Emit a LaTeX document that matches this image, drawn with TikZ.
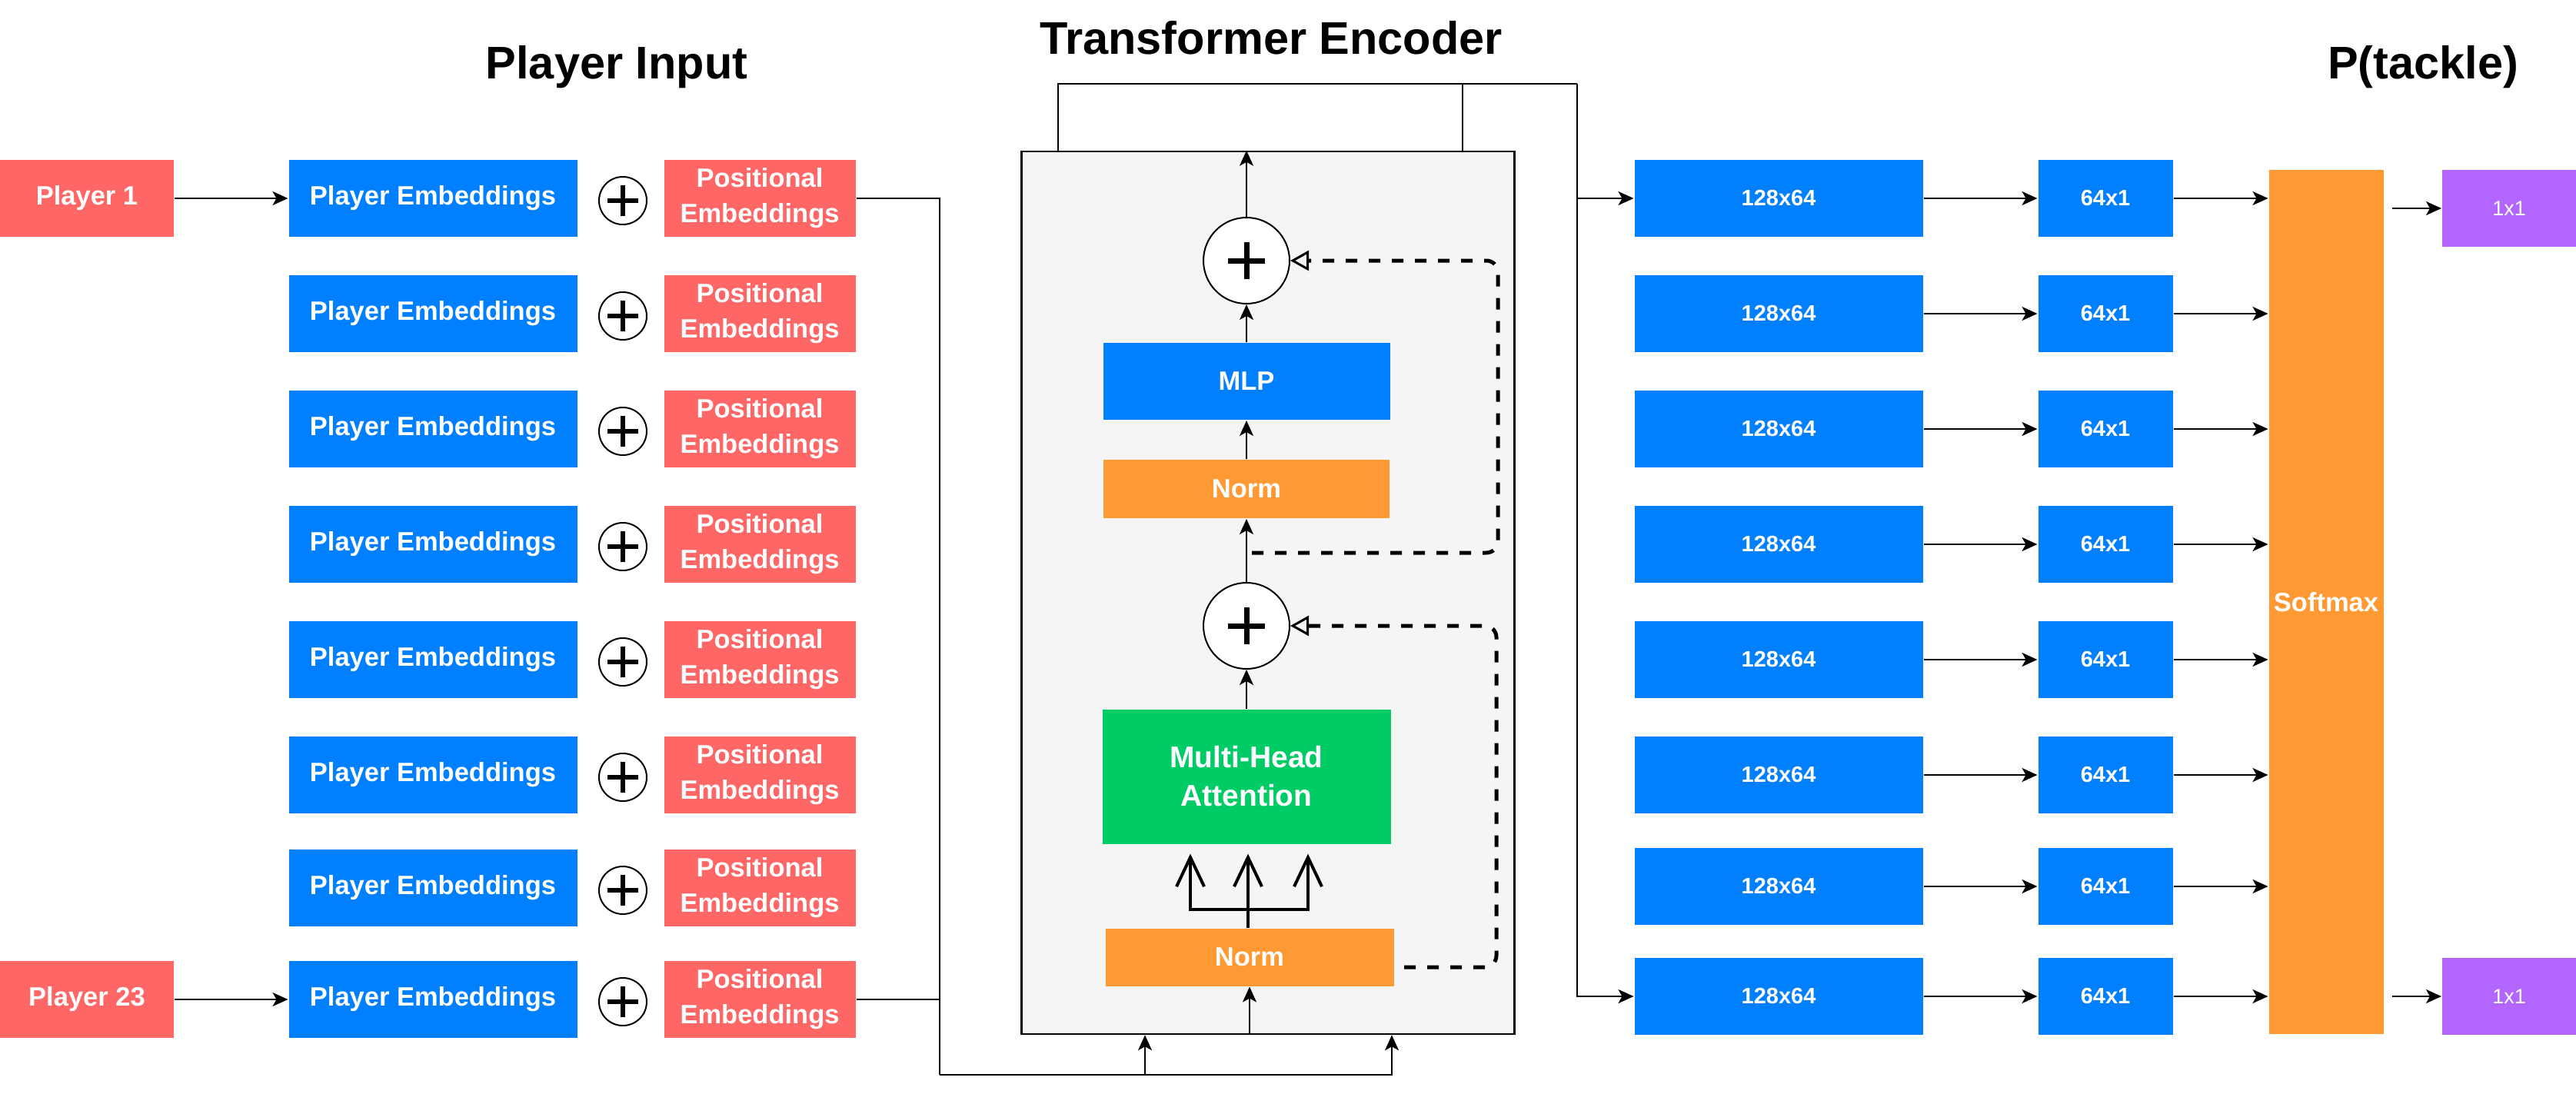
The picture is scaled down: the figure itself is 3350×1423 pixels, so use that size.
\documentclass[tikz,border=0pt]{standalone}
\usepackage{fontspec}
\setmainfont{Liberation Sans}
\usetikzlibrary{arrows.meta}
\definecolor{embblue}{HTML}{007FFF}
\definecolor{possalmon}{HTML}{FF6666}
\definecolor{normorange}{HTML}{FF9933}
\definecolor{attgreen}{HTML}{00CC66}
\definecolor{outpurple}{HTML}{B266FF}
\definecolor{encgray}{HTML}{F5F5F5}

\begin{document}
\begin{tikzpicture}
    [x=1pt,y=-1pt,line width=2pt,>={Stealth[length=20pt,width=18pt,inset=5pt]},
     box/.style={rectangle,inner sep=0pt,text=white,align=center,font=\bfseries\fontsize{34.5}{46}\selectfont},
     player/.style={box,fill=possalmon,minimum width=226pt,minimum height=100pt},
     embed/.style={box,fill=embblue,minimum width=375pt,minimum height=100pt},
     posbox/.style={box,fill=possalmon,minimum width=249pt,minimum height=100pt},
     dense/.style={box,fill=embblue,minimum height=100pt,font=\bfseries\fontsize{29}{34}\selectfont},
     adder/.style={circle,draw,fill=white,inner sep=0pt,minimum size=#1},
     title/.style={anchor=base,font=\bfseries\fontsize{59.5}{70}\selectfont},
     skipline/.style={dash pattern=on 15pt off 15pt,line width=5pt,rounded corners=15pt,-{Triangle[open,length=24pt,width=26pt,line width=3pt]}},
     trident/.style={line width=4pt,-{Straight Barb[length=38pt,width=36pt]}}]

  \useasboundingbox (0,0) rectangle (3350,1423);

  \node[title] (T-in) at (802,103) {Player Input};
  \node[title] (T-enc) at (1653,71) {Transformer Encoder};
  \node[title] (T-out) at (3151,103) {P(tackle)};

  \node[player] (X-1) at (113,258) {Player 1};
  \node[player] (X-23) at (113,1300) {Player 23};

  \foreach \i/\y in {1/258,2/408,3/558,4/708,5/858,6/1008,7/1155,8/1300}
  {
    \node[embed] (E-\i) at (563,\y) {Player Embeddings};
    \node[adder=62pt] (A-\i) at (810,\y+3) {};
    \draw[line width=6.5pt] (A-\i.center) +(-20,0) -- +(20,0) +(0,-20) -- +(0,20);
    \node[posbox] (P-\i) at (988,\y) {Positional\\Embeddings};
  }

  \draw[->] (X-1) -- (E-1);
  \draw[->] (X-23) -- (E-8);

  \node[rectangle,draw,fill=encgray,line width=2.5pt,minimum width=641pt,minimum height=1148pt] (enc) at (1649,771) {};
  \node[box,fill=normorange,minimum width=375pt,minimum height=75pt] (norm-a) at (1625,1245) {Norm};
  \node[box,fill=attgreen,minimum width=375pt,minimum height=175pt,font=\bfseries\fontsize{39}{50}\selectfont] (mha) at (1621,1010) {Multi-Head\\Attention};
  \node[adder=112pt] (add-a) at (1621,814) {};
  \node[box,fill=normorange,minimum width=372pt,minimum height=76pt] (norm-b) at (1621,636) {Norm};
  \node[box,fill=embblue,minimum width=373pt,minimum height=100pt] (mlp) at (1621,496) {MLP};
  \node[adder=112pt] (add-b) at (1621,339) {};
  \foreach \n in {add-a,add-b}
    \draw[line width=7pt] (\n.center) +(-24,0) -- +(24,0) +(0,-24) -- +(0,24);

  \draw[->] (norm-a.south |- enc.south) -- (norm-a.south);
  \coordinate (qk-l) at (1548,1183);
  \coordinate (qk-m) at (1623,1183);
  \coordinate (qk-r) at (1701,1183);
  \draw[trident,shorten >=12pt] (qk-m |- norm-a.north) -- (qk-m |- mha.south);
  \draw[trident,shorten >=12pt] (qk-m) -- (qk-l) -- (qk-l |- mha.south);
  \draw[trident,shorten >=12pt] (qk-m) -- (qk-r) -- (qk-r |- mha.south);
  \draw[->] (mha) -- (add-a);
  \draw[->] (add-a) -- (norm-b);
  \draw[->] (norm-b) -- (mlp);
  \draw[->] (mlp) -- (add-b);
  \draw[->] (add-b) -- (add-b |- enc.north);

  \coordinate (res-a0) at (1826,1258);
  \coordinate (res-a) at (1946,1258);
  \draw[skipline] (res-a0) -- (res-a) |- (add-a.east);
  \coordinate (res-b0) at (1628,719);
  \coordinate (res-b) at (1948,719);
  \draw[skipline] (res-b0) -- (res-b) |- (add-b.east);

  \coordinate (in-bus) at (1222,1398);
  \coordinate (in-a) at (1489,1398);
  \coordinate (in-b) at (1810,1398);
  \draw (P-1.east) -| (in-bus);
  \draw (P-8.east) -| (in-bus);
  \draw[->] (in-bus) -- (in-b) -- (in-b |- enc.south);
  \draw[->] (in-a) -- (in-a |- enc.south);

  \foreach \i/\y in {1/258,2/408,3/558,4/708,5/858,6/1008,7/1153,8/1296}
  {
    \node[dense,minimum width=375pt] (L-\i) at (2313,\y) {128x64};
    \node[dense,minimum width=175pt] (S-\i) at (2738,\y) {64x1};
    \draw[->] (L-\i) -- (S-\i);
  }
  \node[box,fill=normorange,minimum width=149pt,minimum height=1124pt] (SM) at (3025,783) {Softmax};
  \foreach \i in {1,...,8}
    \draw[->] (S-\i.east) -- (S-\i.east -| SM.west);

  \coordinate (out-a) at (1376,109);
  \coordinate (out-b) at (1902,109);
  \coordinate (out-bus) at (2051,109);
  \draw (out-a |- enc.north) -- (out-a) -- (out-bus);
  \draw (out-b |- enc.north) -- (out-b);
  \draw[->] (out-bus) |- (L-8.west);
  \draw[->] (out-bus |- L-1.west) -- (L-1.west);

  \node[box,fill=outpurple,minimum width=174pt,minimum height=100pt,font=\fontsize{27}{32}\selectfont] (O-1) at (3263,271) {1x1};
  \node[box,fill=outpurple,minimum width=174pt,minimum height=100pt,font=\fontsize{27}{32}\selectfont] (O-2) at (3263,1296) {1x1};
  \coordinate (sm-out) at ([xshift=10pt]SM.east);
  \draw[->] (sm-out |- O-1.west) -- (O-1.west);
  \draw[->] (sm-out |- O-2.west) -- (O-2.west);
\end{tikzpicture}
\end{document}
